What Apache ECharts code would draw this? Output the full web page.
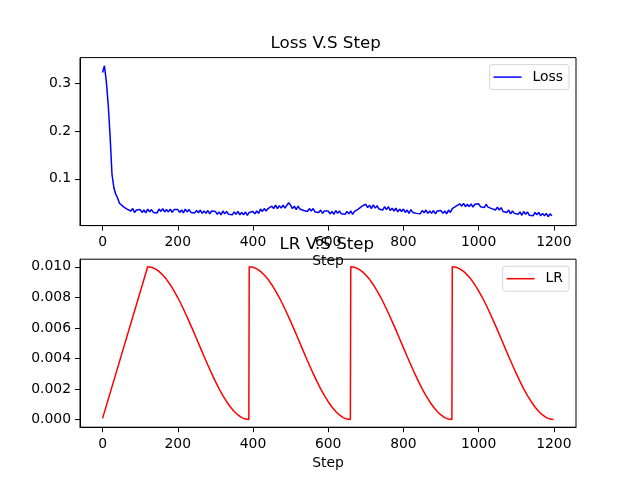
<!DOCTYPE html>
<html>
<head>
<meta charset="utf-8">
<script src="https://cdn.jsdelivr.net/npm/echarts@6/dist/echarts.min.js"></script>
<style>html,body{margin:0;padding:0;background:#fff}#c{width:640px;height:480px}</style>
</head>
<body>
<div id="c"></div>
<script>
// ---- data ----
const lossStepSize = 5; // loss sampled every 5 steps, starting at step 0
const lossValues = [
0.322,0.336,0.303,0.255,0.190,0.110,0.082,0.068,0.060,0.049,
0.049,0.042,0.046,0.037,0.040,0.033,0.038,0.030,0.035,0.031,
0.036,0.030,0.035,0.029,0.037,0.031,0.036,0.030,0.034,0.029,
0.037,0.032,0.038,0.031,0.036,0.031,0.037,0.030,0.036,0.032,
0.036,0.030,0.035,0.029,0.037,0.031,0.036,0.030,0.034,0.029,
0.034,0.029,0.035,0.028,0.033,0.028,0.034,0.027,0.033,0.029,
0.032,0.026,0.031,0.025,0.033,0.027,0.032,0.026,0.030,0.025,
0.031,0.026,0.032,0.025,0.030,0.025,0.031,0.024,0.030,0.026,
0.032,0.027,0.033,0.028,0.037,0.032,0.038,0.033,0.038,0.034,
0.043,0.038,0.045,0.038,0.044,0.039,0.045,0.039,0.045,0.050,
0.045,0.038,0.043,0.036,0.043,0.037,0.041,0.034,0.038,0.032,
0.038,0.033,0.038,0.031,0.035,0.030,0.035,0.028,0.033,0.029,
0.033,0.027,0.032,0.026,0.034,0.028,0.033,0.027,0.031,0.026,
0.032,0.027,0.033,0.026,0.032,0.028,0.037,0.034,0.043,0.041,
0.047,0.040,0.045,0.038,0.046,0.039,0.044,0.037,0.041,0.035,
0.042,0.036,0.042,0.034,0.039,0.033,0.039,0.031,0.037,0.032,
0.037,0.030,0.035,0.028,0.036,0.030,0.034,0.028,0.032,0.027,
0.034,0.029,0.035,0.028,0.033,0.028,0.034,0.027,0.033,0.029,
0.034,0.028,0.033,0.027,0.035,0.030,0.038,0.036,0.043,0.040,
0.048,0.043,0.049,0.042,0.047,0.042,0.048,0.041,0.047,0.043,
0.048,0.042,0.046,0.040,0.047,0.041,0.045,0.038,0.041,0.035,
0.041,0.035,0.040,0.032,0.036,0.030,0.035,0.027,0.033,0.028,
0.032,0.026,0.031,0.024,0.032,0.026,0.031,0.024,0.028,0.023,
0.030,0.025,0.030,0.023,0.028,0.023,0.028,0.021,0.027,0.023
];

const lrSteps = [
0,
120,130,140,150,160,170,180,190,200,210,220,230,240,250,260,270,280,290,300,310,320,330,340,350,360,370,380,389,
390,400,410,420,430,440,450,460,470,480,490,500,510,520,530,540,550,560,570,580,590,600,610,620,630,640,650,659,
660,670,680,690,700,710,720,730,740,750,760,770,780,790,800,810,820,830,840,850,860,870,880,890,900,910,920,929,
930,940,950,960,970,980,990,1000,1010,1020,1030,1040,1050,1060,1070,1080,1090,1100,1110,1120,1130,1140,1150,1160,1170,1180,1190,1199
];
const lrValues = [
0.00008,
0.01000,0.00997,0.00987,0.00970,0.00947,0.00918,0.00883,0.00843,0.00799,0.00750,0.00698,0.00643,0.00587,0.00529,0.00471,0.00413,0.00357,0.00302,0.00250,0.00201,0.00157,0.00117,0.00082,0.00053,0.00030,0.00013,0.00003,0.00000,
0.01000,0.00997,0.00987,0.00970,0.00947,0.00918,0.00883,0.00843,0.00799,0.00750,0.00698,0.00643,0.00587,0.00529,0.00471,0.00413,0.00357,0.00302,0.00250,0.00201,0.00157,0.00117,0.00082,0.00053,0.00030,0.00013,0.00003,0.00000,
0.01000,0.00997,0.00987,0.00970,0.00947,0.00918,0.00883,0.00843,0.00799,0.00750,0.00698,0.00643,0.00587,0.00529,0.00471,0.00413,0.00357,0.00302,0.00250,0.00201,0.00157,0.00117,0.00082,0.00053,0.00030,0.00013,0.00003,0.00000,
0.01000,0.00997,0.00987,0.00970,0.00947,0.00918,0.00883,0.00843,0.00799,0.00750,0.00698,0.00643,0.00587,0.00529,0.00471,0.00413,0.00357,0.00302,0.00250,0.00201,0.00157,0.00117,0.00082,0.00053,0.00030,0.00013,0.00003,0.00000
];

const stepTicks = [0, 200, 400, 600, 800, 1000, 1200];
const lossTicks = [0.1, 0.2, 0.3];
const lrTicks = [0.000, 0.002, 0.004, 0.006, 0.008, 0.010];

// ---- layout ----
const FONT = 'DejaVu Sans';
const TICK = 13.9, TITLE = 16.7;
const G0 = { left: 80, top: 57.6, width: 496, height: 168 };
const G1 = { left: 80, top: 259.2, width: 496, height: 168 };

function xAxis(gi) {
  return {
    type: 'value', gridIndex: gi, min: -60, max: 1259,
    name: 'Step', nameLocation: 'middle', nameGap: 29,
    nameTextStyle: { color: '#000', fontSize: TICK, fontFamily: FONT },
    axisLine: { show: true, onZero: false, lineStyle: { color: '#000', width: 1 } },
    axisTick: { show: true, length: 5, lineStyle: { color: '#000', width: 1 }, customValues: stepTicks },
    axisLabel: { color: '#000', fontSize: TICK, fontFamily: FONT, margin: 10, customValues: stepTicks, formatter: v => String(v) },
    splitLine: { show: false }
  };
}
function yAxis(gi, min, max, ticks, fmt) {
  return {
    type: 'value', gridIndex: gi, min: min, max: max,
    axisLine: { show: true, onZero: false, lineStyle: { color: '#000', width: 1 } },
    axisTick: { show: true, length: 5, lineStyle: { color: '#000', width: 1 }, customValues: ticks },
    axisLabel: { color: '#000', fontSize: TICK, fontFamily: FONT, margin: 9, customValues: ticks, formatter: fmt },
    splitLine: { show: false }
  };
}
function legend(name, top) {
  return {
    data: [name], right: 71, top: top, orient: 'vertical', z: 10,
    icon: 'rect', itemWidth: 28, itemHeight: 1.5,
    padding: [5, 6, 5, 4],
    borderColor: '#d6d6d6', borderWidth: 1, borderRadius: 3, backgroundColor: '#fff',
    textStyle: { color: '#000', fontSize: TICK, fontFamily: FONT, padding: [0, 0, 0, 6], lineHeight: 15 }
  };
}

const chart = echarts.init(document.getElementById('c'), null, { renderer: 'canvas' });
chart.setOption({
  animation: false,
  backgroundColor: '#fff',
  textStyle: { fontFamily: FONT },
  title: [
    { text: 'Loss V.S Step', left: 270.5, top: 35, padding: 0, textStyle: { color: '#000', fontSize: TITLE, fontWeight: 'normal', fontFamily: FONT } },
    { text: 'LR V.S Step', left: 279.5, top: 236.5, padding: 0, textStyle: { color: '#000', fontSize: TITLE, fontWeight: 'normal', fontFamily: FONT } }
  ],
  legend: [legend('Loss', 64.6), legend('LR', 266.2)],
  grid: [
    Object.assign({ show: true, backgroundColor: '#fff', borderColor: '#000', borderWidth: 1 }, G0),
    Object.assign({ show: true, backgroundColor: '#fff', borderColor: '#000', borderWidth: 1 }, G1)
  ],
  xAxis: [xAxis(0), xAxis(1)],
  yAxis: [
    yAxis(0, 0.0025, 0.353, lossTicks, v => v.toFixed(1)),
    yAxis(1, -0.0005, 0.0105, lrTicks, v => v.toFixed(3))
  ],
  series: [
    {
      name: 'Loss', type: 'line', xAxisIndex: 0, yAxisIndex: 0, z: 5,
      showSymbol: false, symbol: 'none',
      lineStyle: { color: '#0000ff', width: 1.5 }, itemStyle: { color: '#0000ff' },
      data: lossValues.map((v, i) => [i * lossStepSize, v])
    },
    {
      name: 'LR', type: 'line', xAxisIndex: 1, yAxisIndex: 1, z: 5,
      showSymbol: false, symbol: 'none',
      lineStyle: { color: '#ff0000', width: 1.5 }, itemStyle: { color: '#ff0000' },
      data: lrSteps.map((s, i) => [s, lrValues[i]])
    }
  ]
});
</script>
</body>
</html>
